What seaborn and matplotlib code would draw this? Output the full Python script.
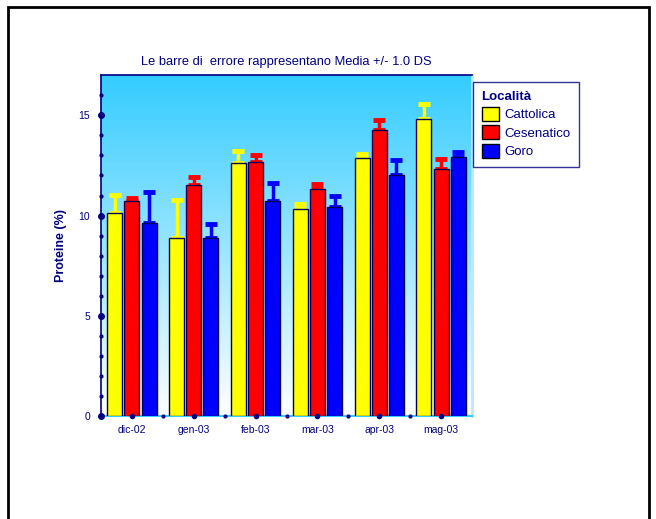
import seaborn as sns
import matplotlib.pyplot as plt
import matplotlib.patches as mpatches
import matplotlib.colors as mcolors
import numpy as np
import pandas as pd

# dati
mesi = ["dic-02", "gen-03", "feb-03", "mar-03", "apr-03", "mag-03"]
localita = ["Cattolica", "Cesenatico", "Goro"]
media_cattolica = [10.14, 8.91, 12.60, 10.32, 12.86, 14.79]
media_cesenatico = [10.74, 11.50, 12.68, 11.32, 14.25, 12.33]
media_goro = [9.63, 8.87, 10.74, 10.44, 12.03, 12.93]
ds_cattolica = [0.88, 1.86, 0.62, 0.24, 0.20, 0.76]
ds_cesenatico = [0.15, 0.40, 0.36, 0.23, 0.53, 0.48]
ds_goro = [1.54, 0.71, 0.89, 0.56, 0.73, 0.23]
colori = ["#FFFF00", "#FF0000", "#0000FF"]

navy = "#000080"

df = pd.DataFrame({
    "mese": mesi * 3,
    "localita": np.repeat(localita, len(mesi)),
    "media": media_cattolica + media_cesenatico + media_goro,
    "ds": ds_cattolica + ds_cesenatico + ds_goro,
})

sns.set_theme(style="white")
plt.rcParams['font.family'] = ['Liberation Sans', 'DejaVu Sans']

fig = plt.figure(figsize=(6.56, 5.19), dpi=100)
ax = fig.add_axes([0.154, 0.1975, 0.5655, 0.658])

# sfondo sfumato
grad = np.linspace(0, 1, 256).reshape(-1, 1)
cmap = mcolors.LinearSegmentedColormap.from_list("bg", ["#33CCFF", "#FFFFFF"])
ax.imshow(grad, cmap=cmap, aspect="auto", extent=(-0.5, 5.5, 0, 17), zorder=0)

sns.barplot(data=df, x="mese", y="media", hue="localita", palette=colori,
            saturation=1, width=0.83, gap=0.12, edgecolor="#000050", linewidth=1,
            errorbar=None, ax=ax, zorder=3, legend=False)

# barre di errore (solo verso l'alto)
for bars, col, serie in zip(ax.containers, colori,
                            [ds_cattolica, ds_cesenatico, ds_goro]):
    xs = [b.get_x() + b.get_width() / 2 for b in bars]
    ys = [b.get_height() for b in bars]
    ax.errorbar(xs, ys, yerr=[np.zeros(len(serie)), serie], fmt="none",
                ecolor=col, elinewidth=2.5, capsize=4, capthick=3.5, zorder=2)

ax.set_xlim(-0.5, 5.5)
ax.set_ylim(0, 17)
ax.set_yticks([0, 5, 10, 15])
ax.set_yticks(np.arange(0, 17, 1), minor=True)
ax.set_xlabel("")
ax.set_ylabel("Proteine (%)", color=navy, fontsize=9, fontweight="bold", labelpad=8)
ax.set_title("Le barre di  errore rappresentano Media +/- 1.0 DS", color=navy,
             fontsize=9.3, pad=7)
ax.tick_params(axis="both", colors=navy, labelsize=7.5, length=0, pad=8)
ax.tick_params(axis="x", pad=6)

# punti sugli assi
ax.plot(np.zeros(4) - 0.5, [0, 5, 10, 15], "o", color=navy, ms=4, clip_on=False, zorder=5)
ax.plot(np.full(17, -0.5), np.arange(17), "o", color=navy, ms=2, clip_on=False, zorder=5)
ax.plot(np.arange(6), np.zeros(6), "o", color=navy, ms=3, clip_on=False, zorder=5)
ax.plot(np.arange(6) - 0.5, np.zeros(6), "o", color=navy, ms=2, clip_on=False, zorder=5)

for s in ["left", "top"]:
    ax.spines[s].set_color(navy)
    ax.spines[s].set_linewidth(1.2)
ax.spines["bottom"].set_color("#33CCFF")
ax.spines["bottom"].set_linewidth(1.5)
ax.spines["right"].set_color("#BBE8FF")
ax.spines["right"].set_linewidth(2)

# legenda
handles = [mpatches.Patch(facecolor=c, edgecolor="black", label=l)
           for c, l in zip(colori, localita)]
leg = fig.legend(handles=handles, title="Località", loc="upper left",
                 bbox_to_anchor=(0.721, 0.842), frameon=True, fontsize=9.5,
                 title_fontsize=9.5, handlelength=1.3, handleheight=1.3,
                 handletextpad=0.4, labelspacing=0.3, borderpad=0.65,
                 borderaxespad=0, fancybox=False, alignment="left")
leg.get_title().set_fontweight("bold")
leg.get_title().set_color(navy)
for t in leg.get_texts():
    t.set_color(navy)
leg.get_frame().set_edgecolor(navy)
leg.get_frame().set_linewidth(1)

# cornice della figura
fig.patches.append(mpatches.Rectangle((8 / 656, -0.05), 641 / 656, 1.05 - 7 / 519,
                                      transform=fig.transFigure, fill=False,
                                      edgecolor="black", linewidth=2))

fig.savefig("out.png", dpi=100)
